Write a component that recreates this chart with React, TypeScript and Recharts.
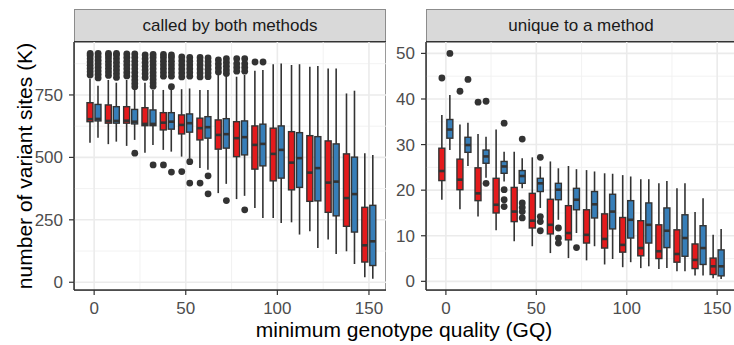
import React from 'react'
import { ComposedChart, Bar, Scatter, XAxis, YAxis, CartesianGrid } from 'recharts'

const FONT = '"Liberation Sans", Arial, Helvetica, sans-serif'
const RED = '#E41A1C'
const BLUE = '#377EB8'
const INK = '#333333'

const gq = [0, 10, 20, 30, 40, 50, 60, 70, 80, 90, 100, 110, 120, 130, 140, 150]

// called by both methods (K sites)
const bothRedLo = [559, 553, 546, 519, 530, 503, 457, 357, 333, 297, 257, 240, 204, 171, 124, 20]
const bothRedQ1 = [643, 637, 637, 627, 610, 594, 570, 533, 503, 453, 406, 370, 324, 280, 224, 81]
const bothRedMed = [653, 646, 647, 634, 639, 630, 617, 590, 577, 550, 514, 479, 439, 399, 337, 148]
const bothRedQ3 = [719, 710, 703, 699, 679, 670, 657, 650, 643, 626, 617, 603, 587, 566, 514, 300]
const bothRedHi = [816, 810, 810, 799, 770, 773, 770, 830, 823, 847, 873, 870, 863, 856, 756, 517]

const bothBlueLo = [579, 563, 570, 550, 523, 495, 450, 394, 346, 257, 237, 191, 137, 113, 73, 14]
const bothBlueQ1 = [646, 637, 634, 627, 613, 601, 577, 537, 510, 466, 417, 380, 326, 266, 201, 67]
const bothBlueMed = [654, 646, 643, 634, 643, 637, 621, 593, 581, 554, 530, 497, 457, 403, 353, 164]
const bothBlueQ3 = [712, 703, 692, 690, 679, 674, 663, 655, 646, 633, 626, 599, 583, 554, 501, 308]
const bothBlueHi = [787, 799, 770, 770, 770, 776, 770, 843, 830, 850, 876, 873, 866, 856, 767, 510]

const bothRedOut = [
  [830, 843, 856, 869, 882, 895, 908, 916],
  [828, 842, 856, 870, 884, 898, 910, 916],
  [826, 840, 855, 870, 885, 900, 914],
  [820, 835, 850, 865, 880, 895, 910],
  [825, 840, 855, 870, 885, 900, 912, 470],
  [822, 838, 854, 870, 886, 902, 443],
  [822, 838, 854, 870, 886, 900, 397],
  [842, 858, 874, 890],
  [845, 860, 875, 895],
  [882],
  [], [], [], [], [], [],
]
const bothBlueOut = [
  [818, 832, 846, 860, 874, 888, 902, 916],
  [820, 835, 850, 865, 880, 895, 910, 916],
  [783, 796, 810, 825, 840, 855, 870, 885, 900, 914, 517],
  [785, 798, 812, 826, 840, 855, 870, 885, 900, 912, 470],
  [783, 825, 840, 855, 870, 885, 900, 910, 441],
  [825, 840, 855, 870, 885, 900, 483, 397],
  [823, 838, 853, 868, 883, 898, 426, 354],
  [836, 850, 865, 880, 895, 327],
  [845, 860, 875, 895, 290],
  [882],
  [], [], [], [], [], [],
]

// unique to a method (K sites)
const uniqRedLo = [17.9, 15.8, 14.2, 11.2, 8.8, 7.7, 6.2, 5.1, 4.6, 3.7, 3.1, 2.9, 2.7, 2.2, 1.3, 0.7]
const uniqRedQ1 = [22.1, 20.1, 17.7, 15.0, 13.1, 11.7, 10.4, 9.1, 8.4, 7.3, 6.4, 5.6, 5.0, 4.2, 2.8, 1.5]
const uniqRedMed = [24.2, 22.3, 19.3, 16.8, 15.3, 13.3, 12.4, 10.6, 10.2, 9.3, 8.0, 7.3, 6.6, 6.0, 4.7, 3.3]
const uniqRedQ3 = [29.2, 26.8, 24.9, 22.6, 20.6, 19.3, 18.0, 16.6, 15.7, 14.8, 14.0, 13.3, 12.4, 11.3, 8.2, 5.1]
const uniqRedHi = [36.5, 34.4, 32.3, 33.3, 28.4, 27.2, 26.3, 25.3, 24.4, 23.7, 23.3, 22.4, 21.5, 20.4, 15.2, 10.2]

const uniqBlueLo = [28.8, 25.3, 22.7, 21.9, 20.4, 16.1, 13.5, 10.6, 7.7, 4.9, 4.2, 3.3, 2.9, 2.2, 1.3, 0.5]
const uniqBlueQ1 = [31.4, 28.3, 25.9, 23.7, 21.5, 19.7, 17.9, 15.7, 13.9, 11.5, 9.5, 8.4, 7.4, 5.5, 3.7, 1.2]
const uniqBlueMed = [33.3, 29.9, 27.4, 25.2, 23.1, 21.5, 20.1, 17.9, 16.9, 15.3, 13.5, 12.4, 11.1, 9.5, 7.3, 3.3]
const uniqBlueQ3 = [35.5, 31.6, 28.8, 26.3, 24.3, 22.6, 21.5, 20.4, 19.7, 19.1, 17.7, 17.2, 16.1, 14.6, 12.2, 6.9]
const uniqBlueHi = [40.9, 34.8, 31.7, 28.4, 27.0, 25.2, 24.8, 24.6, 24.1, 23.6, 23.0, 22.4, 22.0, 21.5, 18.2, 11.5]

const uniqRedOut = [[44.6], [41.7], [39.3], [], [], [], [], [], [], [], [], [], [], [], [], []]
const uniqBlueOut = [
  [50.0], [44.3], [39.5, 21.5], [34.7, 20.1, 17.9, 16.4], [31.2, 17.2, 16.2, 15.3, 13.9],
  [27.2, 14.2, 13.1, 11.1], [11.7, 9.5, 8.4], [7.4], [], [], [], [], [], [], [], [],
]

const xTicks = [0, 50, 100, 150]
const xMinor = [25, 75, 125]

const toRows = (r: number[][], b: number[][]) =>
  gq.map((g, i) => ({ gq: g, r: r.map((a) => a[i]), b: b.map((a) => a[i]) }))
const toPts = (out: number[][]) => gq.flatMap((g, i) => out[i].map((v) => ({ gq: g, v })))

const bothRows = toRows(
  [bothRedLo, bothRedQ1, bothRedMed, bothRedQ3, bothRedHi],
  [bothBlueLo, bothBlueQ1, bothBlueMed, bothBlueQ3, bothBlueHi]
)
const uniqRows = toRows(
  [uniqRedLo, uniqRedQ1, uniqRedMed, uniqRedQ3, uniqRedHi],
  [uniqBlueLo, uniqBlueQ1, uniqBlueMed, uniqBlueQ3, uniqBlueHi]
)

// whisker range for a bar; rows without stats (outlier points) give nothing
const range = (k: 'r' | 'b') => (d: any) => (d && d[k] ? [d[k][0], d[k][4]] : undefined)

// box drawn inside the whisker range bar; inner values placed on the same linear y scale
function BoxShape(props: any) {
  const { x, y, width, height, stats, color } = props
  if (!stats || x == null || y == null) return null
  const [lo, q1, med, q3, hi] = stats
  const top = Math.min(y, y + height)
  const bot = Math.max(y, y + height)
  const py = (v: number) => (hi === lo ? top : top + ((hi - v) / (hi - lo)) * (bot - top))
  const cx = x + width / 2
  return (
    <g>
      <line x1={cx} x2={cx} y1={top} y2={py(q3)} stroke={INK} strokeWidth={1.6} />
      <line x1={cx} x2={cx} y1={py(q1)} y2={bot} stroke={INK} strokeWidth={1.6} />
      <rect x={x} y={py(q3)} width={width} height={py(q1) - py(q3)} fill={color} stroke={INK} strokeWidth={1.4} />
      <line x1={x} x2={x + width} y1={py(med)} y2={py(med)} stroke={INK} strokeWidth={2.6} />
    </g>
  )
}

const dot = (shift: number) => (p: any) =>
  p.cx == null ? <g /> : <circle cx={p.cx + shift} cy={p.cy} r={3.4} fill={INK} />

function Panel(props: {
  rows: any[]
  redOut: number[][]
  blueOut: number[][]
  width: number
  axisWidth: number
  yDomain: number[]
  yTicks: number[]
  yMinor: number[]
}) {
  const tick = { fontSize: 17, fill: '#4D4D4D', fontFamily: FONT }
  return (
    <ComposedChart
      width={props.width}
      height={280}
      data={props.rows}
      margin={{ top: 0, right: 0, bottom: 0, left: 0 }}
      barGap={2}
    >
      <CartesianGrid horizontalValues={props.yMinor} verticalValues={xMinor} stroke="#F0F0F0" strokeWidth={0.9} />
      <CartesianGrid horizontalValues={props.yTicks} verticalValues={xTicks} stroke="#EBEBEB" strokeWidth={1.6} />
      <XAxis
        type="number"
        dataKey="gq"
        domain={[-11, 159.3]}
        ticks={xTicks}
        allowDataOverflow
        height={32}
        tickSize={5}
        tickMargin={7}
        tick={tick}
        axisLine={{ stroke: INK, strokeWidth: 1.5 }}
        tickLine={{ stroke: INK, strokeWidth: 1.2 }}
      />
      <YAxis
        type="number"
        domain={props.yDomain}
        ticks={props.yTicks}
        allowDataOverflow
        width={props.axisWidth}
        tickSize={5}
        tickMargin={6}
        tick={tick}
        axisLine={{ stroke: INK, strokeWidth: 1.5 }}
        tickLine={{ stroke: INK, strokeWidth: 1.2 }}
      />
      <Bar
        dataKey={range('r')}
        barSize={6}
        isAnimationActive={false}
        shape={(p: any) => <BoxShape {...p} stats={p.payload && p.payload.r} color={RED} />}
      />
      <Bar
        dataKey={range('b')}
        barSize={6}
        isAnimationActive={false}
        shape={(p: any) => <BoxShape {...p} stats={p.payload && p.payload.b} color={BLUE} />}
      />
      <Scatter data={toPts(props.redOut)} dataKey="v" isAnimationActive={false} shape={dot(-4)} />
      <Scatter data={toPts(props.blueOut)} dataKey="v" isAnimationActive={false} shape={dot(4)} />
    </ComposedChart>
  )
}

const strip = (left: number, width: number, text: string) => (
  <>
    <div
      style={{
        position: 'absolute', left, top: 9, width, height: 33, boxSizing: 'border-box',
        background: '#D9D9D9', border: '1px solid #8C8C8C', borderBottom: 'none',
        fontSize: 17, color: '#1A1A1A', lineHeight: '32px', textAlign: 'center',
      }}
    >
      {text}
    </div>
    <div style={{ position: 'absolute', left, top: 41, width, height: 2, background: INK }} />
    <div
      style={{
        position: 'absolute', left, top: 42, width, height: 249, boxSizing: 'border-box',
        border: '1px solid #9A9A9A',
      }}
    />
  </>
)

export default function App() {
  return (
    <div
      style={{
        position: 'absolute', left: 0, top: 0, width: 734, height: 345, overflow: 'hidden',
        background: '#fff', fontFamily: FONT,
      }}
    >
      {strip(74, 312, 'called by both methods')}
      {strip(426, 310, 'unique to a method')}
      <div style={{ position: 'absolute', left: 0, top: 42 }}>
        <Panel
          rows={bothRows}
          redOut={bothRedOut}
          blueOut={bothBlueOut}
          width={386}
          axisWidth={74}
          yDomain={[-31, 962]}
          yTicks={[0, 250, 500, 750]}
          yMinor={[125, 375, 625, 875]}
        />
      </div>
      <div style={{ position: 'absolute', left: 386, top: 42 }}>
        <Panel
          rows={uniqRows}
          redOut={uniqRedOut}
          blueOut={uniqBlueOut}
          width={348}
          axisWidth={40}
          yDomain={[-1.9, 52.5]}
          yTicks={[0, 10, 20, 30, 40, 50]}
          yMinor={[5, 15, 25, 35, 45]}
        />
      </div>
      <div
        style={{
          position: 'absolute', left: 24, top: 166, transform: 'translate(-50%, -50%) rotate(-90deg)',
          whiteSpace: 'nowrap', fontSize: 21, lineHeight: '21px', color: '#000',
        }}
      >
        number of variant sites (K)
      </div>
      <div
        style={{
          position: 'absolute', left: 404, top: 329, transform: 'translate(-50%, -50%)',
          whiteSpace: 'nowrap', fontSize: 21, lineHeight: '21px', color: '#000',
        }}
      >
        minimum genotype quality (GQ)
      </div>
    </div>
  )
}
